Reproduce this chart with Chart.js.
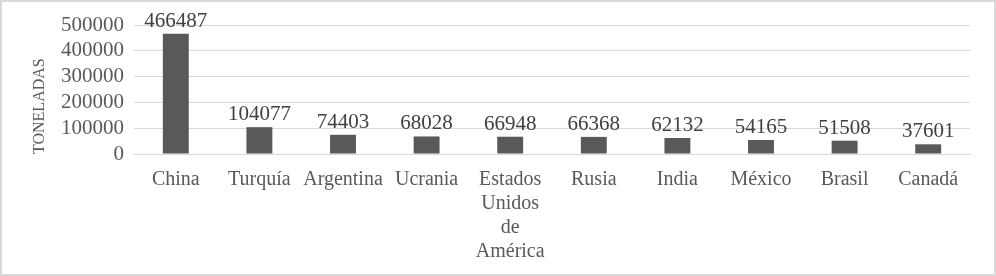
<!DOCTYPE html>
<html>
<head>
<meta charset="utf-8">
<script src="https://cdn.jsdelivr.net/npm/chart.js@4/dist/chart.umd.min.js"></script>
<style>
  html, body { margin: 0; padding: 0; background: #ffffff; }
  #frame { width: 996px; height: 276px; box-sizing: border-box; border: 2px solid #d9d9d9; position: relative; }
  #wrap { position: absolute; left: 0; top: 0; width: 992px; height: 272px; }
</style>
</head>
<body>
<div id="frame"><div id="wrap"><canvas id="c"></canvas></div></div>
<script>
const countries = ['China', 'Turquía', 'Argentina', 'Ucrania', ['Estados', 'Unidos', 'de', 'América'], 'Rusia', 'India', 'México', 'Brasil', 'Canadá'];
const tonnes = [466487, 104077, 74403, 68028, 66948, 66368, 62132, 54165, 51508, 37601];
const yTicks = [0, 100000, 200000, 300000, 400000, 500000];

const TEXT = '#595959';
const FONT = 'Liberation Serif, "Times New Roman", serif';

// Writes each bar's value just above it
const valueLabels = {
  id: 'valueLabels',
  afterDatasetsDraw(chart) {
    const ctx = chart.ctx;
    const meta = chart.getDatasetMeta(0);
    ctx.save();
    ctx.font = '21px ' + FONT;
    ctx.fillStyle = '#404040';
    ctx.textAlign = 'center';
    ctx.textBaseline = 'alphabetic';
    meta.data.forEach((bar, i) => {
      ctx.fillText(String(chart.data.datasets[0].data[i]), bar.x, bar.y - 7);
    });
    ctx.restore();
  }
};

new Chart(document.getElementById('c'), {
  type: 'bar',
  data: {
    labels: countries,
    datasets: [{
      data: tonnes,
      backgroundColor: '#595959',
      barPercentage: 0.62,
      categoryPercentage: 0.5
    }]
  },
  options: {
    responsive: true,
    maintainAspectRatio: false,
    animation: false,
    layout: { padding: { top: 23, right: 24, bottom: 4, left: 24 } },
    plugins: { legend: { display: false }, tooltip: { enabled: false } },
    scales: {
      x: {
        grid: { display: false },
        border: { display: true, color: '#d9d9d9', width: 1 },
        ticks: {
          color: TEXT,
          font: { family: FONT, size: 20, lineHeight: 1.2 },
          maxRotation: 0,
          autoSkip: false,
          padding: 6
        }
      },
      y: {
        min: 0,
        max: 500000,
        afterBuildTicks(scale) { scale.ticks = yTicks.map(v => ({ value: v })); },
        afterFit(scale) { scale.width = 108; },
        grid: { color: '#d9d9d9', lineWidth: 1, drawTicks: false },
        border: { display: false },
        ticks: {
          color: TEXT,
          font: { family: FONT, size: 21 },
          padding: 10,
          autoSkip: false,
          callback: v => String(v)
        },
        title: {
          display: true,
          text: 'TONELADAS',
          align: 'start',
          color: TEXT,
          font: { family: FONT, size: 16 },
          padding: { top: 4, bottom: 4 }
        }
      }
    }
  },
  plugins: [valueLabels]
});
</script>
</body>
</html>
